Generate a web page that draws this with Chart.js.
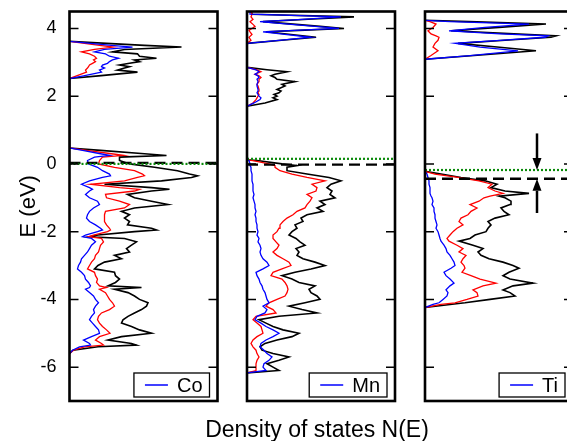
<!DOCTYPE html>
<html>
<head>
<meta charset="utf-8">
<script src="https://cdn.jsdelivr.net/npm/chart.js@4.4.1/dist/chart.umd.min.js"></script>
<style>
  html, body { margin: 0; padding: 0; background: #fff; }
  #figure { position: relative; width: 567px; height: 441px; overflow: hidden; background: #fff; }
  #figure canvas { position: absolute; top: 0; }
  #xtitle { position: absolute; left: 117px; width: 400px; top: 418px; text-align: center;
            font: 23px "Liberation Sans", Arial, sans-serif; line-height: 22px; color: #000; }
</style>
</head>
<body>
<div id="figure">
  <canvas id="panelCo" width="222" height="441" style="left:0px"></canvas>
  <canvas id="panelMn" width="175" height="441" style="left:225px"></canvas>
  <canvas id="panelTi" width="175" height="441" style="left:403px"></canvas>
  <div id="xtitle">Density of states N(E)</div>
</div>
<script>
// ---- axis settings ----
const energyMin = -7, energyMax = 4.5;
const dosMax = 14.8;
const energyTicks = [-6, -4, -2, 0, 2, 4];
const panelNames = ['Co', 'Mn', 'Ti'];

// reference levels per panel (Co, Mn, Ti)
const dashedLevel = [0.03, -0.02, -0.44];
const dottedLevel = [0.0, 0.15, -0.18];

// gap arrows in the Ti panel
const arrowDos = 11.2;
const arrowStart = [0.9, -1.45];

// ---- Co panel ----
const coEnergy = [
  -5.6,-5.5,-5.4,-5.35,-5.3,-5.2,-5.1,-5.0,-4.9,-4.8,
  -4.7,-4.6,-4.5,-4.4,-4.3,-4.2,-4.1,-4.0,-3.9,-3.8,
  -3.7,-3.65,-3.6,-3.5,-3.4,-3.3,-3.2,-3.1,-3.0,-2.9,
  -2.8,-2.7,-2.6,-2.5,-2.4,-2.3,-2.2,-2.15,-2.1,-2.0,
  -1.95,-1.9,-1.8,-1.7,-1.6,-1.5,-1.4,-1.3,-1.2,-1.1,
  -1.0,-0.9,-0.8,-0.75,-0.7,-0.6,-0.5,-0.4,-0.35,-0.3,
  -0.2,-0.1,0.0,0.1,0.2,0.25,0.3,0.4,0.47,
  2.52,2.6,2.71,2.77,2.83,2.87,2.92,2.97,3.02,3.07,
  3.12,3.18,3.25,3.31,3.38,3.45,3.5,3.56,3.62
];
const coTotal = [
  0,0.35,2.85,6.7,6.2,3.85,5.2,8.2,7.0,6.2,
  5.2,5.35,5.85,6.5,7.2,7.7,7.85,7.0,6.5,5.85,
  4.5,7.2,3.85,4.6,5.0,4.6,4.5,2.5,2.85,3.5,
  5.2,4.5,6.0,5.7,6.2,6.7,5.5,2.0,2.85,6.5,
  8.7,8.2,5.8,6.0,5.5,6.0,5.2,6.5,9.85,8.2,
  6.5,5.8,8.2,10.0,8.2,3.5,9.2,12.2,12.8,12.0,
  10.8,8.5,6.0,5.0,5.0,9.7,7.5,3.1,0,
  0,2.9,6.8,4.8,5.5,6.0,5.0,6.0,7.0,6.5,
  8.7,7.0,6.8,4.3,5.5,11.2,7.5,3.7,0
];
const coOther = [
  0,0.4,1.5,3.4,3.2,2.6,3.0,4.05,3.7,3.3,
  3.0,2.8,2.9,3.2,4.0,4.5,4.3,4.0,3.8,3.6,
  3.0,3.7,3.0,2.7,2.8,2.6,2.5,1.8,2.0,2.2,
  2.5,2.6,2.9,3.0,3.1,3.4,3.2,1.9,2.4,3.8,
  4.1,4.0,3.7,3.5,3.5,3.5,3.6,5.5,6.0,5.0,
  3.7,3.6,6.5,7.0,5.0,2.1,5.5,6.8,7.5,7.3,
  6.5,4.5,2.9,3.0,3.3,5.4,4.2,1.7,0,
  0,0.7,1.7,1.6,1.8,1.9,2.0,2.3,2.6,2.4,
  2.7,2.5,2.0,1.2,2.5,4.4,3.0,1.5,0
];
const coAtom = [
  0,0.3,1.0,2.1,2.0,1.4,2.2,3.0,2.9,2.6,
  2.3,2.0,2.2,2.5,2.4,2.6,2.9,2.6,2.4,2.0,
  1.6,2.0,2.1,1.9,1.6,1.5,1.2,0.8,0.9,1.1,
  1.2,1.5,1.8,2.0,2.2,2.6,2.2,1.3,1.6,2.8,
  3.3,3.1,2.6,2.0,1.7,1.8,2.0,2.4,3.0,2.8,
  2.0,1.6,2.0,2.3,2.0,1.2,2.0,3.3,4.1,4.0,
  3.3,2.8,1.9,1.8,2.5,4.0,3.1,1.3,0,
  0,1.4,3.2,3.0,3.5,3.2,3.3,3.8,4.0,4.3,
  4.9,4.0,3.6,2.5,3.5,6.3,4.2,2.1,0
];

// ---- Mn panel ----
const mnEnergy = [
  -6.17,-6.1,-6.0,-5.9,-5.8,-5.7,-5.6,-5.5,-5.4,-5.3,
  -5.2,-5.1,-5.0,-4.9,-4.8,-4.7,-4.6,-4.5,-4.4,-4.3,
  -4.2,-4.1,-4.0,-3.9,-3.8,-3.7,-3.6,-3.5,-3.4,-3.3,
  -3.2,-3.1,-3.0,-2.9,-2.8,-2.7,-2.6,-2.5,-2.4,-2.3,
  -2.2,-2.1,-2.0,-1.9,-1.8,-1.7,-1.6,-1.5,-1.4,-1.3,
  -1.2,-1.1,-1.0,-0.9,-0.8,-0.7,-0.6,-0.5,-0.4,-0.3,
  -0.2,-0.1,-0.05,0.0,0.1,0.12,
  1.7,1.8,1.9,1.95,2.0,2.05,2.1,2.15,2.2,2.3,
  2.35,2.43,2.5,2.55,2.6,2.65,2.72,2.78,2.85,
  3.56,3.65,3.74,3.82,3.9,3.95,4.0,4.06,4.12,4.2,
  4.27,4.34,4.42,4.55
];
const mnTotal = [
  0,3.2,2.6,2.0,3.2,4.2,2.6,1.5,1.3,1.8,
  3.0,4.5,5.2,3.6,2.6,1.9,1.2,3.2,7.0,5.5,
  4.2,5.8,7.3,7.0,6.4,6.2,6.8,5.2,4.5,3.5,
  4.8,6.4,7.8,6.8,5.6,5.0,5.2,4.9,5.8,5.3,
  4.9,4.2,4.5,5.0,4.8,5.6,5.4,6.0,7.6,7.0,
  7.8,7.3,8.8,8.3,8.5,8.0,8.4,9.4,8.2,6.0,
  4.0,4.0,5.0,3.5,1.0,0,
  0,1.8,3.0,2.6,3.0,2.7,3.2,3.4,3.0,3.8,
  3.5,4.8,3.0,2.8,2.4,2.8,4.0,2.0,0,
  0,3.45,6.9,4.4,1.9,5.8,9.7,7.3,4.9,1.6,
  6.1,10.7,0.5,0.4
];
const mnOther = [
  0,0.9,0.9,0.9,1.0,1.2,1.0,0.9,0.6,0.4,
  0.6,1.0,1.6,1.5,1.4,1.0,0.6,0.9,2.9,2.6,
  1.9,2.2,3.0,3.8,4.0,4.1,4.0,3.8,3.5,2.4,
  2.6,3.5,4.4,4.2,3.6,3.0,2.6,3.0,3.2,2.9,
  2.6,2.6,3.0,3.2,3.3,3.6,4.0,4.6,5.0,5.8,
  6.0,6.3,6.5,6.0,6.9,7.0,6.5,7.8,6.0,4.5,
  3.3,2.8,2.8,2.2,0.6,0,
  0,0.6,0.9,1.0,1.1,1.2,1.1,1.2,1.2,1.1,
  1.0,1.2,1.2,1.4,1.2,0.8,1.4,1.0,0,
  0,0.4,0.2,0.5,0.3,0.2,0.5,0.8,0.6,0.3,
  0.6,0.4,0.5,0.3
];
const mnAtom = [
  0,1.9,1.6,1.7,2.2,2.5,2.0,1.7,1.3,1.4,
  1.9,2.6,3.2,2.6,1.9,1.4,0.8,1.0,1.8,2.0,
  1.6,2.2,2.0,1.9,1.8,1.6,1.5,1.3,1.2,1.0,
  0.9,1.6,2.2,2.0,1.6,1.4,1.3,1.4,1.3,1.1,
  1.2,1.0,1.1,1.0,1.0,0.9,0.9,0.8,0.9,0.8,
  0.8,0.7,0.6,0.7,0.6,0.6,0.6,0.5,0.5,0.5,
  0.4,0.4,0.3,0.3,0.2,0,
  0,0.7,1.3,1.4,1.2,1.1,1.0,1.1,1.1,1.0,
  1.0,1.1,1.0,1.2,1.1,0.8,1.2,0.9,0,
  0,3.2,6.4,4.0,1.6,5.3,9.2,6.8,4.4,1.3,
  5.5,9.4,0.3,0.3
];

// ---- Ti panel ----
const tiEnergy = [
  -4.24,-4.15,-4.1,-4.0,-3.9,-3.8,-3.72,-3.6,-3.52,-3.4,
  -3.3,-3.2,-3.08,-3.0,-2.9,-2.8,-2.7,-2.6,-2.5,-2.4,
  -2.28,-2.2,-2.1,-2.0,-1.9,-1.8,-1.7,-1.6,-1.5,-1.4,
  -1.3,-1.2,-1.1,-1.0,-0.95,-0.87,-0.8,-0.7,-0.6,-0.5,
  -0.4,-0.3,-0.22,
  3.09,3.2,3.34,3.45,3.56,3.65,3.74,3.78,3.84,3.93,
  4.03,4.13,4.2,4.24
];
const tiTotal = [
  0,2.5,4.0,6.5,9.0,8.5,7.8,8.8,10.8,8.5,
  7.8,8.4,9.4,8.8,7.8,6.4,5.6,5.3,5.8,4.8,
  3.4,4.5,5.0,6.1,6.3,6.6,6.3,7.0,8.4,7.9,
  7.6,8.5,8.6,8.0,7.4,10.4,8.0,6.6,7.2,6.0,
  3.6,1.6,0,
  0,4.9,11.1,7.2,3.3,8.0,12.6,13.1,8.9,2.6,
  7.4,12.1,4.4,0
];
const tiOther = [
  0,1.6,3.0,4.2,5.3,5.2,4.8,5.8,7.1,5.5,
  4.6,3.7,4.0,3.9,3.6,3.8,4.1,3.4,3.8,3.2,
  2.4,2.2,2.5,2.8,3.2,3.8,3.4,3.6,4.3,4.6,
  5.2,4.5,5.4,5.9,6.5,7.8,7.0,6.3,6.7,5.4,
  3.3,1.0,0,
  0,0.6,1.3,0.8,1.0,1.3,1.4,1.1,0.6,0.3,
  0.8,1.1,0.5,0
];
const tiAtom = [
  0,0.8,1.4,1.8,2.2,2.3,2.1,2.5,2.9,2.5,
  2.1,1.9,2.6,3.0,2.9,2.7,2.5,2.2,2.1,1.9,
  1.6,1.5,1.4,1.3,1.1,1.2,1.1,1.0,1.0,0.9,
  0.9,0.7,0.8,0.7,0.6,0.5,0.5,0.5,0.4,0.4,
  0.3,0.2,0,
  0,4.5,9.3,5.5,3.0,7.5,12.0,12.3,7.5,2.4,
  6.0,10.4,2.5,0
];

// ---- styling ----
const FONT = '"Liberation Sans", Arial, Helvetica, sans-serif';
Chart.defaults.font.family = FONT;
Chart.defaults.color = '#000';
const colTotal = '#000000', colOther = '#ff0000', colAtom = '#0000ff', colFermi = '#0a8a0a';

function curve(energy, dos, color, width, order) {
  return {
    data: energy.map((e, i) => ({ x: dos[i], y: e })),
    borderColor: color, borderWidth: width, showLine: true,
    pointRadius: 0, fill: false, tension: 0, order
  };
}
function level(e, color, dash, width, order) {
  return {
    data: [{ x: 0, y: e }, { x: dosMax, y: e }],
    borderColor: color, borderDash: dash, borderWidth: width,
    showLine: true, pointRadius: 0, fill: false, order
  };
}

// frame, inward ticks, legend box and optional arrows
const panelDecor = {
  id: 'panelDecor',
  afterDatasetsDraw(chart, args, opts) {
    const { ctx, chartArea: a, scales: { x, y } } = chart;
    ctx.save();
    ctx.strokeStyle = '#000';
    ctx.lineWidth = 1.5;
    energyTicks.forEach(v => {
      const py = y.getPixelForValue(v);
      ctx.beginPath();
      ctx.moveTo(a.left, py); ctx.lineTo(a.left + 9, py);
      ctx.moveTo(a.right, py); ctx.lineTo(a.right - 9, py);
      ctx.stroke();
    });
    ctx.lineWidth = 2.6;
    ctx.strokeRect(a.left, a.top, a.right - a.left, a.bottom - a.top);

    // legend
    ctx.font = '20px ' + FONT;
    const tw = ctx.measureText(opts.label).width;
    const bw = 11 + 23 + 9 + tw + 7, bh = 24;
    const bx = a.right - 8 - bw, by = a.bottom - 4 - bh;
    ctx.fillStyle = '#fff';
    ctx.fillRect(bx, by, bw, bh);
    ctx.lineWidth = 1.3;
    ctx.strokeStyle = '#000';
    ctx.strokeRect(bx, by, bw, bh);
    ctx.strokeStyle = colAtom;
    ctx.lineWidth = 1.5;
    ctx.beginPath();
    ctx.moveTo(bx + 11, by + bh / 2); ctx.lineTo(bx + 34, by + bh / 2);
    ctx.stroke();
    ctx.fillStyle = '#000';
    ctx.textBaseline = 'middle';
    ctx.textAlign = 'left';
    ctx.fillText(opts.label, bx + 43, by + bh / 2 + 1);

    // arrows marking the shift between levels
    (opts.arrows || []).forEach(ar => {
      const px = x.getPixelForValue(ar.dos);
      const y0 = y.getPixelForValue(ar.from);
      const y1 = y.getPixelForValue(ar.to);
      const dir = y1 > y0 ? 1 : -1;
      const head = 12, half = 4.5;
      ctx.strokeStyle = '#000';
      ctx.fillStyle = '#000';
      ctx.lineWidth = 2.5;
      ctx.beginPath();
      ctx.moveTo(px, y0); ctx.lineTo(px, y1 - dir * head);
      ctx.stroke();
      ctx.beginPath();
      ctx.moveTo(px, y1);
      ctx.lineTo(px - half, y1 - dir * head);
      ctx.lineTo(px + half, y1 - dir * head);
      ctx.closePath();
      ctx.fill();
    });
    ctx.restore();
  }
};

function makePanel(canvasId, idx, energy, total, other, atom, withAxis, padLeft, padRight, arrows) {
  const yScale = {
    type: 'linear', min: energyMin, max: energyMax, display: withAxis, position: 'left',
    afterBuildTicks: s => { s.ticks = energyTicks.map(v => ({ value: v })); },
    grid: { display: false, drawTicks: false },
    border: { display: false },
    ticks: { font: { size: 18 }, color: '#000', padding: 13, callback: v => String(v) },
    title: { display: withAxis, text: 'E (eV)', font: { size: 22 }, color: '#000', padding: { top: 16, bottom: 0 } }
  };
  if (withAxis) {
    yScale.afterFit = s => { s.width = 69.5; s.paddingTop = 0; s.paddingBottom = 0; };
  }
  return new Chart(document.getElementById(canvasId), {
    type: 'scatter',
    data: {
      datasets: [
        curve(energy, total, colTotal, 1.6, 3),
        curve(energy, other, colOther, 1.3, 2),
        curve(energy, atom, colAtom, 1.3, 1),
        level(dashedLevel[idx], '#000', [11, 6], 2.4, 0),
        level(dottedLevel[idx], colFermi, [2, 2], 2.2, -1)
      ]
    },
    options: {
      responsive: false,
      animation: false,
      devicePixelRatio: 1,
      layout: { padding: { left: padLeft, right: padRight, top: 11.5, bottom: 40 } },
      plugins: {
        legend: { display: false },
        tooltip: { enabled: false },
        panelDecor: { label: panelNames[idx], arrows }
      },
      scales: {
        x: { type: 'linear', min: 0, max: dosMax, display: false },
        y: yScale
      }
    },
    plugins: [panelDecor]
  });
}

makePanel('panelCo', 0, coEnergy, coTotal, coOther, coAtom, true, 0, 4.5, []);
makePanel('panelMn', 1, mnEnergy, mnTotal, mnOther, mnAtom, false, 22, 5, []);
makePanel('panelTi', 2, tiEnergy, tiTotal, tiOther, tiAtom, false, 22, 5, [
  { dos: arrowDos, from: arrowStart[0], to: dottedLevel[2] },
  { dos: arrowDos, from: arrowStart[1], to: dashedLevel[2] }
]);
</script>
</body>
</html>
